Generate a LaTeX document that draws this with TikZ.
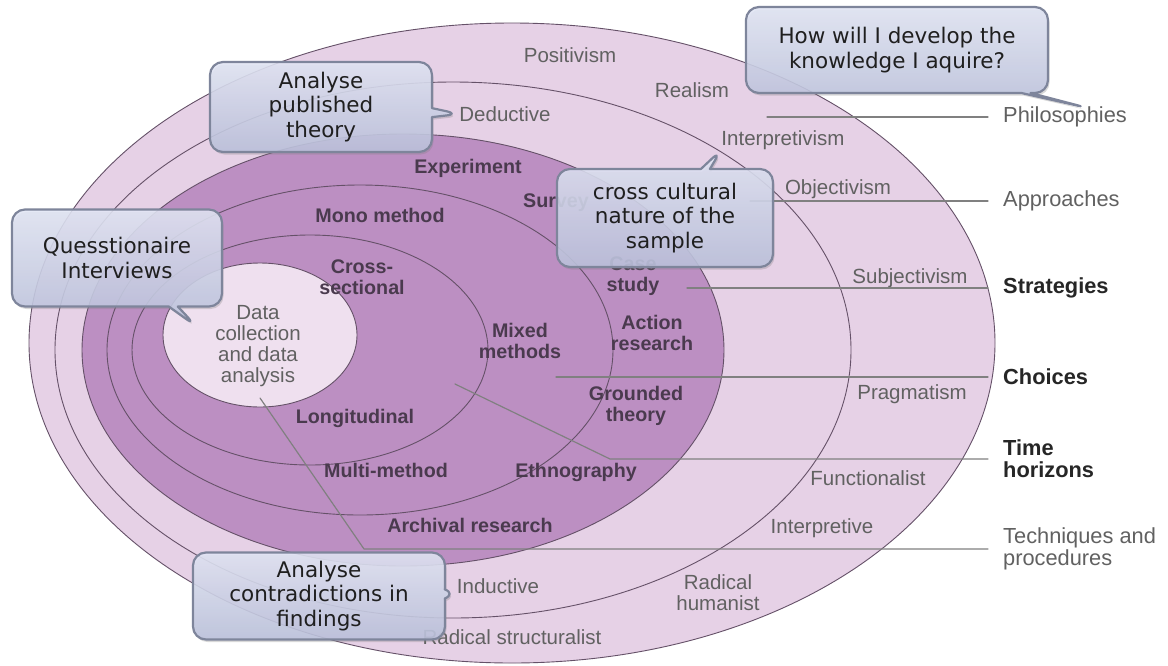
\documentclass[tikz,border=0pt]{standalone}
\usepackage{fontspec}
\setmainfont{Liberation Sans}
\newfontfamily\callfont{DejaVu Sans}
\usetikzlibrary{shapes.callouts,shadows}
\definecolor{outerring}{HTML}{E6D1E6}
\definecolor{darkring}{HTML}{BC8FC2}
\definecolor{corefill}{HTML}{EFE0EF}
\definecolor{ringline}{HTML}{655168}
\definecolor{leadline}{HTML}{808080}
\definecolor{boxline}{HTML}{7E859B}
\definecolor{boxtop}{HTML}{E2E6F5}
\definecolor{boxbottom}{HTML}{BCC2DD}
\definecolor{darklbl}{HTML}{4A3A4E}
\begin{document}
\begin{tikzpicture}[x=1pt,y=-1pt,line join=round,line cap=round,
	ring/.style={draw=ringline,line width=0.9pt},
	lbl/.style={font=\fontsize{20.5}{21}\selectfont,text=black!62,align=center,inner sep=0pt},
	blbl/.style={font=\fontsize{19.7}{21.5}\selectfont\bfseries,text=darklbl,align=center,inner sep=0pt},
	side/.style={font=\fontsize{21.8}{22}\selectfont,text=black!62,anchor=west,align=left,inner sep=0pt},
	bside/.style={side,font=\fontsize{21.8}{22}\selectfont\bfseries,text=black!85},
	lead/.style={draw=leadline,line width=1.2pt,shorten >=15pt},
	callbox/.style={rectangle callout,rounded corners=13pt,draw=boxline,line width=2.2pt,
		top color=boxtop,bottom color=boxbottom,fill opacity=0.87,text opacity=1,
		callout pointer width=9pt,align=center,text=black!88,inner sep=3pt,
		font=\callfont\fontsize{21.5}{24.5}\selectfont,
		drop shadow={opacity=0.3,shadow xshift=1.5pt,shadow yshift=-2.5pt}}]
	\useasboundingbox[fill=white] (0,0) rectangle (1168,665);
	% the onion
	\filldraw[ring,fill=outerring] (512,343) ellipse (483 and 320);
	\draw[ring] (453,350) ellipse (398 and 268);
	\filldraw[ring,fill=darkring] (403,350) ellipse (321 and 216);
	\draw[ring] (360,350) ellipse (253 and 165);
	\draw[ring] (310,350) ellipse (178 and 115);
	\filldraw[ring,fill=corefill] (260,335) ellipse (97 and 72);
	% philosophies and approaches
	\node[lbl] (posit) at (570,55) {Positivism};
	\node[lbl] (real) at (692,90) {Realism};
	\node[lbl] (deduct) at (505,114) {Deductive};
	\node[lbl] (interp) at (783,140) {Interpretivism};
	\node[lbl] (objec) at (838,189) {Objectivism};
	\node[lbl] (subj) at (910,278) {Subjectivism};
	\node[lbl] (prag) at (912,394) {Pragmatism};
	\node[lbl] (func) at (868,478) {Functionalist};
	\node[lbl] (interpv) at (822,528) {Interpretive};
	\node[lbl] (radhum) at (718,593) {Radical\\humanist};
	\node[lbl] (radstr) at (512,637) {Radical structuralist};
	\node[lbl] (induct) at (498,586) {Inductive};
	% strategies, choices, time horizons
	\node[blbl] (exper) at (468,168) {Experiment};
	\node[blbl] (surv) at (556,203) {Survey};
	\node[blbl] (case) at (633,276) {Case\\study};
	\node[blbl] (action) at (652,333) {Action\\research};
	\node[blbl] (ground) at (636,406) {Grounded\\theory};
	\node[blbl] (ethno) at (576,472) {Ethnography};
	\node[blbl] (arch) at (470,525) {Archival research};
	\node[blbl] (mono) at (380,215) {Mono method};
	\node[blbl] (mixed) at (520,341) {Mixed\\methods};
	\node[blbl] (multi) at (386,470) {Multi-method};
	\node[blbl] (cross) at (362,277) {Cross-\\sectional};
	\node[blbl] (longi) at (355,418) {Longitudinal};
	\node[lbl] (datacol) at (258,346) {Data\\collection\\and data\\analysis};
	% layer names on the right
	\node[side] (philo) at (1003,117) {Philosophies};
	\node[side] (appr) at (1003,201) {Approaches};
	\node[bside] (strat) at (1003,288) {Strategies};
	\node[bside] (choic) at (1003,377) {Choices};
	\node[bside] (timeh) at (1003,459) {Time\\horizons};
	\node[side] (techn) at (1003,549) {Techniques and\\procedures};
	\coordinate (philostart) at (767,117);
	\coordinate (apprstart) at (750,201);
	\coordinate (stratstart) at (687,288);
	\coordinate (choicstart) at (556,377);
	\coordinate (timestart) at (455,384);
	\coordinate (technstart) at (260,398);
	\draw[lead] (philostart) -- (philo.west);
	\draw[lead] (apprstart) -- (appr.west);
	\draw[lead] (stratstart) -- (strat.west);
	\draw[lead] (choicstart) -- (choic.west);
	\draw[lead] (timestart) -- (610,459) -- (timeh.west);
	\draw[lead] (technstart) -- (364,549) -- (techn.west);
	% callouts
	\coordinate (philotip) at (1088,108);
	\coordinate (datatip) at (196,326);
	\node[callbox,minimum width=222,minimum height=90,callout absolute pointer={(deduct.west)}] (pubbox) at (321,107) {Analyse\\published\\theory};
	\node[callbox,minimum width=302,minimum height=86,callout absolute pointer={(philotip)}] (howbox) at (897,50) {How will I develop the\\knowledge I aquire?};
	\node[callbox,minimum width=216,minimum height=98,callout absolute pointer={(interp.south west)}] (crossbox) at (665,218) {cross cultural\\nature of the\\sample};
	\node[callbox,minimum width=210,minimum height=97,callout absolute pointer={(datatip)}] (quesbox) at (117,258) {Quesstionaire\\Interviews};
	\node[callbox,minimum width=252,minimum height=87,callout absolute pointer={(induct.south west)}] (contrbox) at (319,596) {Analyse\\contradictions in\\findings};
\end{tikzpicture}
\end{document}
